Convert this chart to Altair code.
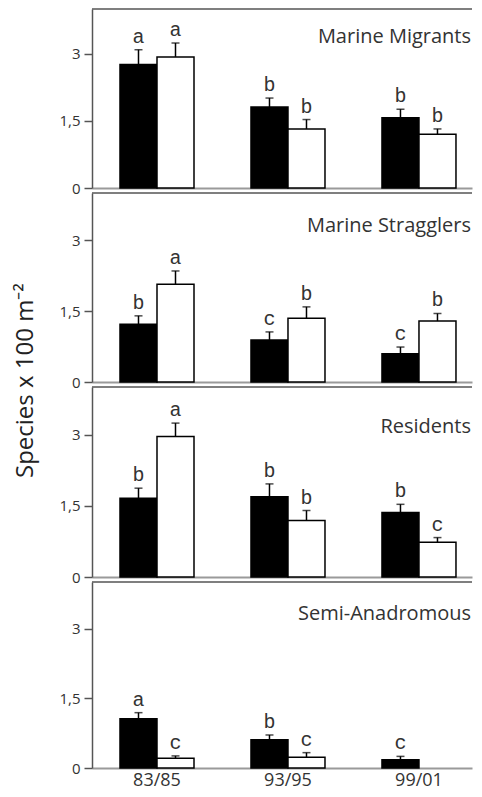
import altair as alt
import pandas as pd

periods = ["83/85", "93/95", "99/01"]
groups = ["Marine Migrants", "Marine Stragglers", "Residents", "Semi-Anadromous"]
series = ["Series A", "Series B"]

# mean values (black bars = Series A, white bars = Series B)
mean_a = {
    "Marine Migrants": [2.76, 1.81, 1.57],
    "Marine Stragglers": [1.22, 0.89, 0.60],
    "Residents": [1.66, 1.69, 1.36],
    "Semi-Anadromous": [1.06, 0.61, 0.18],
}
mean_b = {
    "Marine Migrants": [2.93, 1.32, 1.20],
    "Marine Stragglers": [2.07, 1.35, 1.29],
    "Residents": [2.96, 1.19, 0.73],
    "Semi-Anadromous": [0.21, 0.23, 0.0],
}
# upper end of error bars
upper_a = {
    "Marine Migrants": [3.09, 2.01, 1.76],
    "Marine Stragglers": [1.40, 1.06, 0.74],
    "Residents": [1.87, 1.96, 1.53],
    "Semi-Anadromous": [1.19, 0.71, 0.25],
}
upper_b = {
    "Marine Migrants": [3.24, 1.53, 1.32],
    "Marine Stragglers": [2.35, 1.59, 1.45],
    "Residents": [3.24, 1.40, 0.83],
    "Semi-Anadromous": [0.26, 0.33, 0.0],
}
letters_a = {
    "Marine Migrants": ["a", "b", "b"],
    "Marine Stragglers": ["b", "c", "c"],
    "Residents": ["b", "b", "b"],
    "Semi-Anadromous": ["a", "b", "c"],
}
letters_b = {
    "Marine Migrants": ["a", "b", "b"],
    "Marine Stragglers": ["a", "b", "b"],
    "Residents": ["a", "b", "c"],
    "Semi-Anadromous": ["c", "c", ""],
}

rows = []
for g in groups:
    for i, p in enumerate(periods):
        rows.append(dict(group=g, period=p, series=series[0], mean=mean_a[g][i],
                         upper=upper_a[g][i], letter=letters_a[g][i]))
        rows.append(dict(group=g, period=p, series=series[1], mean=mean_b[g][i],
                         upper=upper_b[g][i], letter=letters_b[g][i]))
df = pd.DataFrame(rows)

W = 380
heights = [179, 189, 190, 186]
title_y = [28, 33, 40, 32]

label_expr = "replace(format(datum.value, '~g'), '.', ',')"


def panel(i, g):
    last = i == len(groups) - 1
    d = df[(df["group"] == g) & (df["mean"] > 0)]
    xscale = alt.Scale(domain=periods, paddingInner=0.435, paddingOuter=0.168, align=0.636)
    xaxis = alt.Axis(
        title=None,
        labels=last,
        ticks=False,
        domainColor="#9a9a9a",
        domainWidth=2,
        labelPadding=3,
        labelAngle=0,
        labelFontSize=18,
    )
    x = alt.X("period:N", scale=xscale, axis=xaxis)
    xo = alt.XOffset("series:N", scale=alt.Scale(domain=series, paddingInner=0, paddingOuter=0))
    yscale = alt.Scale(domain=[0, 4], nice=False)
    yaxis = alt.Axis(
        title=None,
        values=[0, 1.5, 3],
        labelExpr=label_expr,
        grid=False,
        tickSize=8,
        tickColor="#555",
        tickWidth=1.5,
        domainColor="#555",
        domainWidth=1.5,
        labelPadding=4,
    )
    base = alt.Chart(d)
    bars = base.mark_bar(stroke="black", strokeWidth=1.5).encode(
        x=x,
        xOffset=xo,
        y=alt.Y("mean:Q", scale=yscale, axis=yaxis),
        fill=alt.Fill("series:N", scale=alt.Scale(domain=series, range=["black", "white"]), legend=None),
    )
    err = base.mark_rule(color="black", strokeWidth=1.5).encode(
        x=x, xOffset=xo, y="mean:Q", y2="upper:Q"
    )
    cap = base.mark_tick(color="black", orient="horizontal", size=8, thickness=1.5).encode(
        x=x, xOffset=xo, y="upper:Q"
    )
    txt = base.mark_text(font="Liberation Mono", fontSize=20, color="#333", baseline="bottom", dy=-3).encode(
        x=x, xOffset=xo, y="upper:Q", text="letter:N"
    )
    name = alt.Chart(pd.DataFrame({"name": [g]})).mark_text(
        font="Open Sans", fontSize=20, color="#333", align="right", baseline="middle"
    ).encode(text="name:N", x=alt.value(W - 1), y=alt.value(title_y[i]))
    top = alt.Chart(pd.DataFrame({"name": [g]})).mark_rule(color="#555", strokeWidth=1.5).encode(
        x=alt.value(0), x2=alt.value(W), y=alt.value(0)
    )
    return alt.layer(bars, err, cap, txt, name, top).properties(width=W, height=heights[i])


chart = alt.vconcat(
    *[panel(i, g) for i, g in enumerate(groups)],
    spacing=5,
    bounds="flush",
    title=alt.TitleParams(
        "Species x 100 m⁻²",
        orient="left",
        anchor="middle",
        font="Open Sans",
        fontSize=24,
        fontWeight="normal",
        color="#222",
        offset=21,
        dx=18,
    ),
).properties(
    padding={"top": 0, "left": 5, "right": 0, "bottom": 0}
).configure_view(stroke=None).configure_axis(
    labelFont="Open Sans", labelFontSize=15, labelColor="#333"
)

chart.save("out.html", embed_options={"renderer": "svg", "actions": False})
